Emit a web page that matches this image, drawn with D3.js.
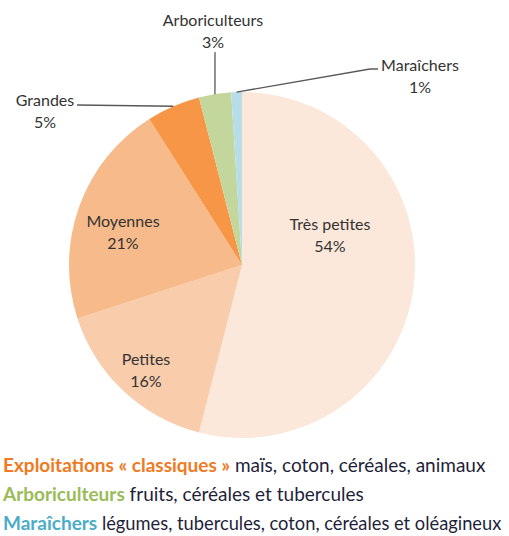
<!DOCTYPE html>
<html>
<head>
<meta charset="utf-8">
<script src="https://cdn.jsdelivr.net/npm/d3@7"></script>
<style>
  html, body { margin: 0; padding: 0; background: #fff; }
  svg { display: block; font-family: Lato, "Open Sans", sans-serif; }
</style>
</head>
<body>
<svg id="chart" width="509" height="536"></svg>
<script>
// Farm categories and their share (%)
const categories = ["Très petites", "Petites", "Moyennes", "Grandes", "Arboriculteurs", "Maraîchers"];
const shares = [54, 16, 21, 5, 3, 1];
const colors = ["#FCE8DA", "#F9CCAB", "#F7BA8A", "#F79646", "#C3D69B", "#B7DEE8"];

// Legend lines: coloured head word + description
const legendHeads = ["Exploitations « classiques »", "Arboriculteurs", "Maraîchers"];
const legendTexts = ["maïs, coton, céréales, animaux", "fruits, céréales et tubercules", "légumes, tubercules, coton, céréales et oléagineux"];
const legendColors = ["#F07A22", "#9BBB59", "#4BACC6"];

const svg = d3.select("#chart");
const width = 509;
const cx = 242, cy = 265, radius = 173;

const data = categories.map((c, i) => ({ name: c, value: shares[i], color: colors[i] }));

const pie = d3.pie().sort(null).value(d => d.value);
const arcs = pie(data);
const arc = d3.arc().innerRadius(0).outerRadius(radius);

const g = svg.append("g").attr("transform", `translate(${cx},${cy})`);

g.selectAll("path.slice")
  .data(arcs)
  .join("path")
  .attr("class", "slice")
  .attr("d", arc)
  .attr("fill", d => d.data.color);

// Label placement (relative to pie centre): inside labels at a point,
// outside labels with a leader line from the slice edge to an elbow.
const labelLayout = {
  "Très petites": { x: 88, y: -35 },
  "Petites": { x: -96, y: 100 },
  "Moyennes": { x: -119, y: -38 },
  "Grandes": { x: -197, y: -159, line: [[-165, -160]] },
  "Arboriculteurs": { x: -29, y: -239, line: [[-27, -213]] },
  "Maraîchers": { x: 178, y: -194, line: [[128, -196], [136, -196]] }
};

const outerPoint = d3.arc().innerRadius(radius).outerRadius(radius);

arcs.forEach(a => {
  const L = labelLayout[a.data.name];
  if (L.line) {
    const start = outerPoint.centroid(a);
    const pts = [start].concat(L.line);
    g.append("path")
      .attr("d", d3.line()(pts))
      .attr("fill", "none")
      .attr("stroke", "#595959")
      .attr("stroke-width", 1.3);
  }
  const t = g.append("text")
    .attr("text-anchor", "middle")
    .attr("font-size", 16)
    .attr("fill", "#333");
  t.append("tspan").attr("x", L.x).attr("y", L.y).text(a.data.name);
  t.append("tspan").attr("x", L.x).attr("y", L.y + 22).text(a.data.value + "%");
});

// Legend; a description that would run past the right edge is set smaller
const legendX = 3, legendRight = width - 6;
const legendSize = 19;
const legend = svg.append("g");
legendHeads.forEach((h, i) => {
  const t = legend.append("text")
    .attr("x", legendX)
    .attr("y", 472 + i * 29)
    .attr("font-size", legendSize);
  const head = t.append("tspan").attr("font-weight", "bold").attr("fill", legendColors[i]).text(h);
  const desc = t.append("tspan").attr("fill", "#1F1F3A").text(" " + legendTexts[i]);
  const headW = head.node().getComputedTextLength();
  const descW = desc.node().getComputedTextLength();
  const room = legendRight - legendX - headW;
  if (descW > room) {
    desc.attr("font-size", Math.floor(legendSize * room / descW * 10) / 10);
  }
});
</script>
</body>
</html>
